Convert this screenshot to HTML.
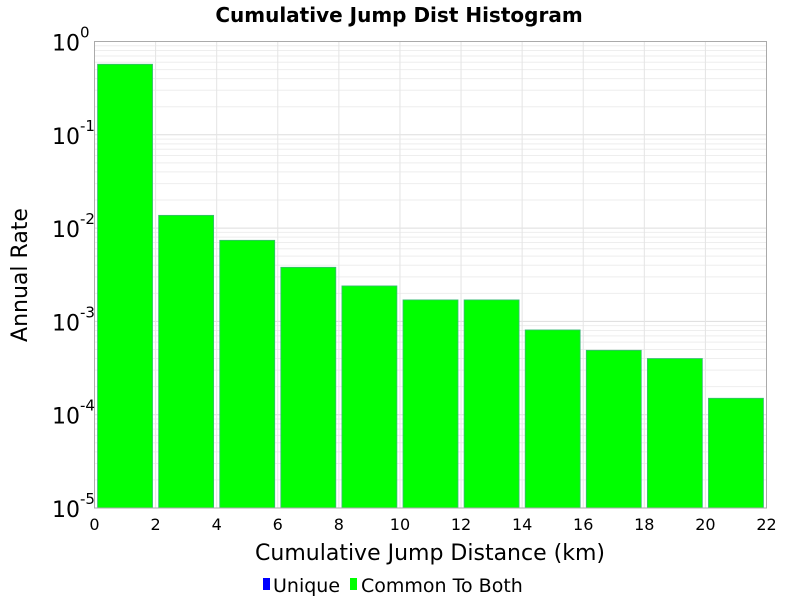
<!DOCTYPE html>
<html><head><meta charset="utf-8"><style>
body{margin:0;background:#fff;}
svg{display:block;font-family:"DejaVu Sans","Liberation Sans",sans-serif;}
</style></head><body>
<svg id="chart" width="800" height="600">
<text x="399" y="22" text-anchor="middle" font-size="20" font-weight="bold">Cumulative Jump Dist Histogram</text>
<g id="grid"></g>
<g id="bars"></g>
<rect x="94.5" y="41.5" width="672" height="466.5" fill="none" stroke="#aaa"/>
<g id="xt"></g>
<g id="yt"></g>
<text x="430" y="560" text-anchor="middle" font-size="22">Cumulative Jump Distance (km)</text>
<text transform="translate(27,275) rotate(-90)" text-anchor="middle" font-size="22">Annual Rate</text>
<g>
<rect x="263" y="578" width="7" height="12" fill="#0000ff"/>
<text x="273" y="592" font-size="19">Unique</text>
<rect x="350" y="578" width="7" height="12" fill="#00ff00"/>
<text x="361" y="592" font-size="19">Common To Both</text>
</g>
</svg>
<script>
const binStarts=[0,2,4,6,8,10,12,14,16,18,20];
const binWidth=2;
const rates=[0.57,0.0137,0.0074,0.0038,0.0024,0.0017,0.0017,0.00081,0.00049,0.00040,0.00015];
const xTicks=[0,2,4,6,8,10,12,14,16,18,20,22];
const yExps=[0,-1,-2,-3,-4,-5];
const NS="http://www.w3.org/2000/svg";
const X0=94.5,X1=766.5,Y0=41.5,Y1=508;
const xs=v=>X0+(v-0)/22*(X1-X0);
const ys=v=>Y0+(0-Math.log10(v))/5*(Y1-Y0);
function mk(t,a,p){const e=document.createElementNS(NS,t);for(const k in a)e.setAttribute(k,a[k]);p.appendChild(e);return e;}
const grid=document.getElementById('grid');
for(let d=-5;d<0;d++){for(let m=1;m<10;m++){const y=ys(m*Math.pow(10,d));
const l=mk('line',{x1:X0,x2:X1,y1:y,y2:y,stroke:m==1?'#ddd':'#eee','stroke-width':1},grid);

}}
xTicks.forEach(t=>{const x=xs(t);
const l=mk('line',{x1:x,x2:x,y1:Y0,y2:Y1,stroke:'#e4e4e4'},grid);


const tx=mk('text',{x:x,y:530,'text-anchor':'middle','font-size':16},document.getElementById('xt'));
tx.textContent=t;

});
yExps.forEach(e=>{const y=ys(Math.pow(10,e));
const tx=mk('text',{x:52,y:y+9,'font-size':22},document.getElementById('yt'));


tx.textContent='10';
const s=mk('tspan',{dy:-13,'font-size':15},tx);s.textContent=String(e).replace('-','-');});
const bars=document.getElementById('bars');
binStarts.forEach((b,i)=>{const xa=xs(b+0.1),xb=xs(b+binWidth-0.1),y=ys(rates[i]);
const r=mk('rect',{x:xa,y:y,width:xb-xa,height:Y1-y,fill:'#00ff00',stroke:'#3cb878','stroke-width':0.8},bars);

});
</script>
</body></html>
